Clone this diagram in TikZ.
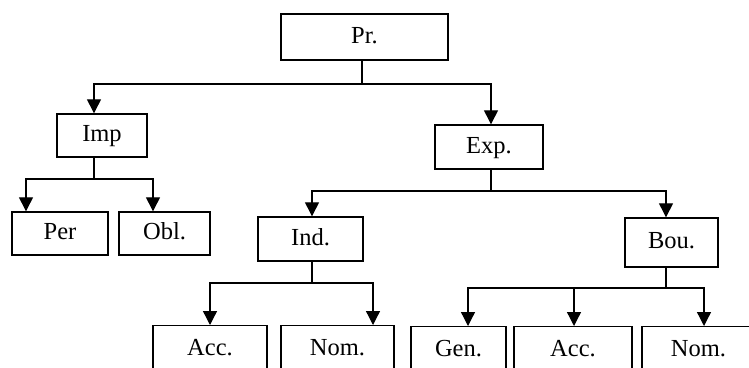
\documentclass[tikz,border=0pt]{standalone}
\usepackage{fontspec}
\setmainfont{Liberation Serif}
\usetikzlibrary{arrows.meta}
\begin{document}
\begin{tikzpicture}[x=1pt,y=-1pt,
  box/.style={draw,line width=1.4pt,inner sep=0pt,text height=17pt,text depth=5pt,font=\fontsize{24.5}{29}\selectfont},
  cutbox/.style={box,anchor=north,text depth=40pt,inner ysep=13pt},
  link/.style={line width=1.3pt},
  arr/.style={link,-{Triangle[length=14pt,width=14pt]}}]
\useasboundingbox (0,0) rectangle (749,367);
% boxes
\node[box,minimum width=167pt,minimum height=46pt] (pr)  at (364.5,37)  {Pr.};
\node[box,minimum width=90pt, minimum height=43pt] (imp) at (102,135.5) {Imp};
\node[box,minimum width=96pt, minimum height=43pt] (per) at (60,233.5)  {Per};
\node[box,minimum width=91pt, minimum height=43pt] (obl) at (164.5,233.5) {Obl.};
\node[box,minimum width=108pt,minimum height=44pt] (exp) at (489,147)   {Exp.};
\node[box,minimum width=105pt,minimum height=44pt] (ind) at (310.5,239) {Ind.};
\node[box,minimum width=93pt, minimum height=49pt] (bou) at (671.5,242.5) {Bou.};
\node[cutbox,minimum width=114pt] (acca) at (210,325)   {Acc.};
\node[cutbox,minimum width=113pt] (noma) at (337.5,325) {Nom.};
\node[cutbox,minimum width=95pt]  (gen)  at (458.5,326) {Gen.};
\node[cutbox,minimum width=118pt] (accb) at (573,326)   {Acc.};
\node[cutbox,minimum width=113pt] (nomb) at (698.5,326) {Nom.};
% junctions
\coordinate (jpr)  at (362,84);
\coordinate (jimp) at (94,179);
\coordinate (jexp) at (491,191);
\coordinate (jind) at (312,283);
\coordinate (jbou) at (666,288);
% connectors
\draw[link] (pr.south -| jpr) -- (jpr);
\draw[arr] (jpr) -| ([xshift=-8pt]imp.north);
\draw[arr] (jpr) -| ([xshift=2pt]exp.north);
\draw[link] (imp.south -| jimp) -- (jimp);
\draw[arr] (jimp) -| ([xshift=-34pt]per.north);
\draw[arr] (jimp) -| ([xshift=-11.5pt]obl.north);
\draw[link] (exp.south -| jexp) -- (jexp);
\draw[arr] (jexp) -| ([xshift=1.5pt]ind.north);
\draw[arr] (jexp) -| ([xshift=-5.5pt]bou.north);
\draw[link] (ind.south -| jind) -- (jind);
\draw[arr] (jind) -| (acca.north);
\draw[arr] (jind) -| ([xshift=35.5pt]noma.north);
\draw[link] (bou.south -| jbou) -- (jbou);
\draw[arr] (jbou) -| ([xshift=9.5pt]gen.north);
\draw[arr] (jbou) -| ([xshift=1pt]accb.north);
\draw[arr] (jbou) -| ([xshift=5.5pt]nomb.north);
\end{tikzpicture}
\end{document}
